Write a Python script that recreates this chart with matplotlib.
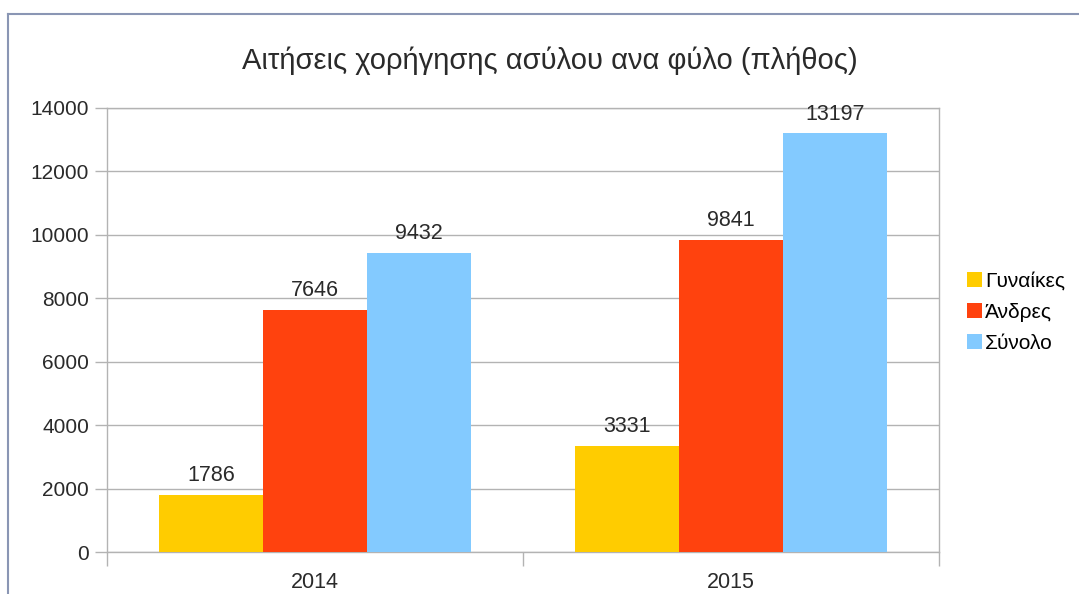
import matplotlib.pyplot as plt
from matplotlib.lines import Line2D

plt.rcParams['font.family'] = ['Liberation Sans', 'DejaVu Sans']

years = ["2014", "2015"]
series_names = ["Γυναίκες", "Άνδρες", "Σύνολο"]
women = [1786, 3331]
men = [7646, 9841]
total = [9432, 13197]
colors = ["#ffcc00", "#ff420e", "#83caff"]

fig = plt.figure(figsize=(10.79, 5.94), dpi=100)
ax = fig.add_axes([0.0992, 0.0707, 0.7711, 0.7475])

grid_col = "#b3b3b3"
txt_col = "#2a2a2a"
width = 0.25
for i, (vals, name, col) in enumerate(zip([women, men, total], series_names, colors)):
    xs = [k + (i - 1) * width for k in range(len(years))]
    ax.bar(xs, vals, width=width, color=col, label=name, zorder=3)
    for x, v in zip(xs, vals):
        ax.text(x, v + 280, str(v), ha="center", va="bottom", fontsize=15.5, color=txt_col)

ax.set_xlim(-0.5, 1.5)
ax.set_ylim(0, 14000)
ax.set_yticks(range(0, 14001, 2000))
ax.yaxis.grid(True, color=grid_col, linewidth=1, zorder=0)
ax.set_xticks([-0.5, 0.5, 1.5])
ax.set_xticklabels([])
ax.tick_params(axis="x", length=10, color=grid_col, width=1)
ax.tick_params(axis="y", length=9, color=grid_col, width=1, labelsize=15, pad=4, labelcolor=txt_col)
for k, y in enumerate(years):
    ax.text(k, -0.045, y, transform=ax.get_xaxis_transform(), ha="center", va="top",
            fontsize=15.5, color=txt_col)
for s in ax.spines.values():
    s.set_color(grid_col)
    s.set_linewidth(1)

fig.text(0.51, 0.898, "Αιτήσεις χορήγησης ασύλου ανα φύλο (πλήθος)", ha="center", va="center",
         fontsize=21, color=txt_col)

leg = ax.legend(loc="center left", bbox_to_anchor=(1.0337, 0.54), frameon=False, fontsize=15,
                borderpad=0, borderaxespad=0, handlelength=0.7, handleheight=0.7,
                handletextpad=0.15, labelspacing=0.58)

# outer frame lines (top and left)
fig.add_artist(Line2D([8 / 1079, 1], [1 - 14 / 594, 1 - 14 / 594], color="#8a96b4", linewidth=1.5))
fig.add_artist(Line2D([8 / 1079, 8 / 1079], [0, 1 - 14 / 594], color="#8a96b4", linewidth=1.5))

fig.savefig("out.png", dpi=100)
